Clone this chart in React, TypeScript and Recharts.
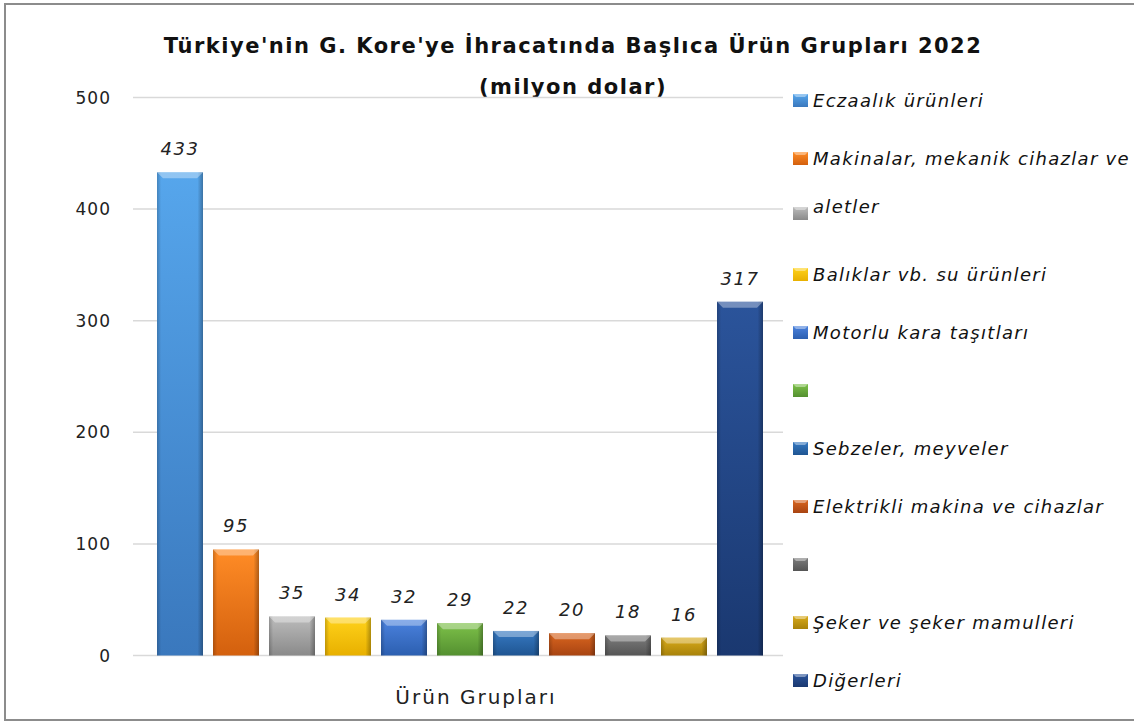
import React from "react";
import { Bar, BarChart, CartesianGrid, Cell, LabelList, Legend, XAxis, YAxis } from "recharts";

const categories = [
  "Eczaalık ürünleri",
  "Makinalar, mekanik cihazlar ve aletler",
  "(gri)",
  "Balıklar vb. su ürünleri",
  "Motorlu kara taşıtları",
  "(yeşil)",
  "Sebzeler, meyveler",
  "Elektrikli  makina ve cihazlar",
  "(koyu gri)",
  "Şeker ve şeker mamulleri",
  "Diğerleri",
];
const values = [433, 95, 35, 34, 32, 29, 22, 20, 18, 16, 317];
// legend text as it appears in the source (second line of item 2 spills into row 3)
const legendLabels = [
  "Eczaalık ürünleri",
  "Makinalar, mekanik cihazlar ve",
  "aletler",
  "Balıklar vb. su ürünleri",
  "Motorlu kara taşıtları",
  "",
  "Sebzeler, meyveler",
  "Elektrikli  makina ve cihazlar",
  "",
  "Şeker ve şeker mamulleri",
  "Diğerleri",
];
const topColors = ["#56a6ec", "#ff8c26", "#bcbcbc", "#ffd21a", "#4b82de", "#7dc149", "#3679c2", "#da661f", "#7c7c7c", "#d9ab1b", "#2b549b"];
const bottomColors = ["#3a78bd", "#d3600e", "#8a8a8a", "#e8b000", "#2c5fb0", "#549030", "#1f5592", "#a84412", "#555555", "#a8820a", "#1a3870"];
const yTicks = [0, 100, 200, 300, 400, 500];

const data = categories.map((name, i) => ({ name, value: values[i], idx: i }));

const FONT = "'DejaVu Sans', Verdana, sans-serif";

function BevelBar(props: any) {
  const { x, y, width, height, payload } = props;
  const i = payload.idx;
  const b = Math.min(6, height / 3);
  return (
    <g>
      <rect x={x} y={y} width={width} height={height} fill={`url(#bar-v-${i})`} />
      <rect x={x} y={y} width={width} height={height} fill="url(#bar-edge)" />
      <polygon
        points={`${x},${y} ${x + width},${y} ${x + width - b},${y + b} ${x + b},${y + b}`}
        fill="#ffffff"
        fillOpacity={0.35}
      />
    </g>
  );
}

function LegendBox() {
  return (
    <div style={{ position: "relative", width: 340, height: 620, fontFamily: FONT }}>
      {legendLabels.map((label, i) => {
        const shift = i === 2 ? -3 : 0;
        return (
          <div key={i} style={{ position: "absolute", left: 0, top: 58 * i + shift, height: 20, width: 340 }}>
            <svg width={15} height={13} style={{ position: "absolute", left: 0, top: 3 }}>
              <defs>
                <linearGradient id={`leg-v-${i}`} x1="0" y1="0" x2="0" y2="1">
                  <stop offset="0%" stopColor={topColors[i]} />
                  <stop offset="100%" stopColor={bottomColors[i]} />
                </linearGradient>
              </defs>
              <rect x={0} y={0} width={15} height={13} fill={`url(#leg-v-${i})`} />
              <polygon points="0,0 15,0 12,3 3,3" fill="#fff" fillOpacity={0.4} />
            </svg>
            <span
              style={{
                position: "absolute",
                left: 20,
                top: i === 2 ? -7 : 0,
                fontSize: 18,
                fontStyle: "italic",
                letterSpacing: 1.3,
                color: "#111",
                whiteSpace: "nowrap",
                lineHeight: "20px",
              }}
            >
              {label}
            </span>
          </div>
        );
      })}
    </div>
  );
}

export default function App() {
  return (
    <div style={{ position: "fixed", left: 0, top: 0, width: 1134, height: 722, background: "#fff", overflow: "hidden" }}>
      <div
        style={{
          position: "absolute",
          left: 4,
          top: 3,
          width: 1140,
          height: 714,
          borderLeft: "2px solid #8c8c8c",
          borderTop: "2px solid #8c8c8c",
          borderBottom: "2px solid #8c8c8c",
        }}
      />
      <div
        style={{
          position: "absolute",
          left: 0,
          width: 1146,
          top: 26,
          textAlign: "center",
          fontFamily: FONT,
          fontWeight: "bold",
          fontSize: 21,
          letterSpacing: 1.5,
          lineHeight: "41px",
          color: "#111",
        }}
      >
        Türkiye'nin G. Kore'ye İhracatında Başlıca Ürün Grupları 2022
        <br />
        (milyon dolar)
      </div>
      <div style={{ position: "absolute", left: 0, top: 0 }}>
        <BarChart
          width={1134}
          height={722}
          data={data}
          margin={{ top: 97.5, right: 351, bottom: 16.5, left: 0 }}
          barSize={46}
        >
          <defs>
            {topColors.map((c, i) => (
              <linearGradient key={i} id={`bar-v-${i}`} x1="0" y1="0" x2="0" y2="1">
                <stop offset="0%" stopColor={c} />
                <stop offset="100%" stopColor={bottomColors[i]} />
              </linearGradient>
            ))}
            <linearGradient id="bar-edge" x1="0" y1="0" x2="1" y2="0">
              <stop offset="0%" stopColor="#000" stopOpacity={0.2} />
              <stop offset="9%" stopColor="#000" stopOpacity={0} />
              <stop offset="88%" stopColor="#000" stopOpacity={0} />
              <stop offset="100%" stopColor="#000" stopOpacity={0.3} />
            </linearGradient>
          </defs>
          <CartesianGrid vertical={false} stroke="#d9d9d9" strokeWidth={1.5} />
          <XAxis
            dataKey="name"
            tick={false}
            tickLine={false}
            axisLine={false}
            height={50}
            padding={{ left: 19, right: 15 }}
            label={{
              value: "Ürün Grupları",
              position: "insideTop",
              offset: 34,
              dx: 18,
              fontFamily: FONT,
              fontSize: 20,
              letterSpacing: 2,
              fill: "#222",
            }}
          />
          <YAxis
            domain={[0, 500]}
            ticks={yTicks}
            width={133}
            tickSize={0}
            tickMargin={22}
            axisLine={false}
            tickLine={false}
            tick={{ fontFamily: FONT, fontSize: 17, fill: "#222", letterSpacing: 1 }}
          />
          <Legend
            layout="vertical"
            align="center"
            verticalAlign="middle"
            wrapperStyle={{ left: 793, top: 91, width: 340, height: 620 }}
            content={() => <LegendBox />}
          />
          <Bar dataKey="value" isAnimationActive={false} shape={(p: any) => <BevelBar {...p} />}>
            {data.map((d) => (
              <Cell key={d.idx} fill={topColors[d.idx]} />
            ))}
            <LabelList
              dataKey="value"
              position="top"
              offset={17}
              style={{ fontFamily: FONT, fontSize: 18, fontStyle: "italic", letterSpacing: 1.5, fill: "#222" }}
            />
          </Bar>
        </BarChart>
      </div>
    </div>
  );
}
